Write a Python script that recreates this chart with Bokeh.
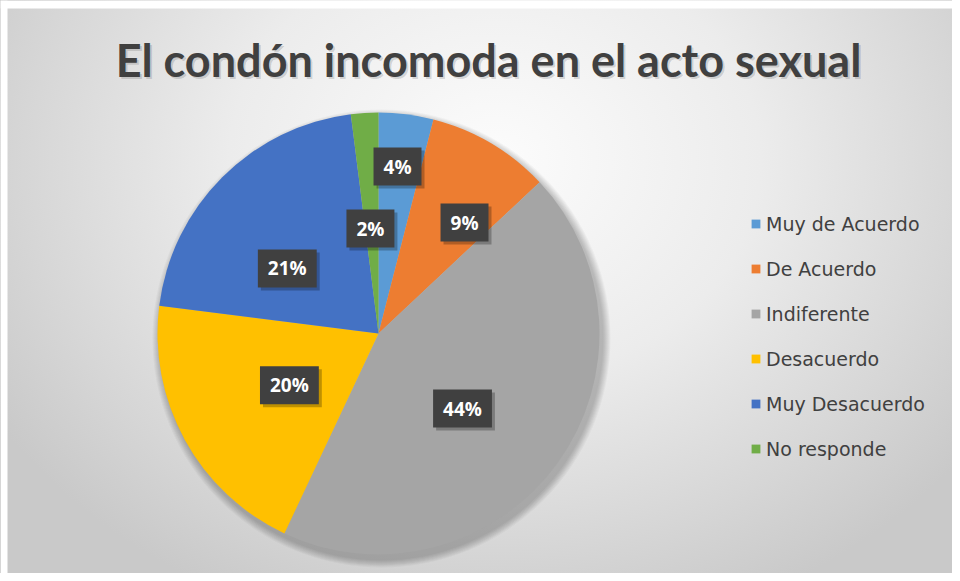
import math
from bokeh.plotting import figure
from bokeh.models import ColumnDataSource, Range1d, Legend, LegendItem
from bokeh.core.properties import value
from bokeh.embed import file_html
from bokeh.resources import INLINE

# ---- data ----
title_text = "El condón incomoda en el acto sexual"
categories = ["Muy de Acuerdo", "De Acuerdo", "Indiferente", "Desacuerdo", "Muy Desacuerdo", "No responde"]
percents = [4, 9, 44, 20, 21, 2]
colors = ["#5B9BD5", "#ED7D31", "#A5A5A5", "#FFC000", "#4472C4", "#70AD47"]

# label placement (layout only): radial fraction and angular shift (deg, clockwise)
label_radius_frac = [0.76, 0.635, 0.51, 0.466, 0.507, 0.476]
label_angle_shift = [-0.7, 7.2, 5.8, -1.3, -9.5, -0.8]

W, H = 952, 573
CX, CY, R = 378, H - 333, 221

total = sum(percents)
starts, ends, lx, ly, labels = [], [], [], [], []
cum = 0.0
for pct, fr, sh in zip(percents, label_radius_frac, label_angle_shift):
    a0 = math.pi / 2 - 2 * math.pi * (cum + pct) / total
    a1 = math.pi / 2 - 2 * math.pi * cum / total
    starts.append(a0)
    ends.append(a1)
    mid = (a0 + a1) / 2 - math.radians(sh)
    lx.append(CX + fr * R * math.cos(mid))
    ly.append(CY + fr * R * math.sin(mid))
    labels.append(f"{pct}%")
    cum += pct

src = ColumnDataSource(dict(cat=categories, start=starts, end=ends, color=colors,
                            lx=lx, ly=ly, label=labels))

p = figure(width=W, height=H, output_backend="svg", toolbar_location=None,
           x_range=Range1d(0, W), y_range=Range1d(0, H), min_border=0,
           styles={"background": "radial-gradient(ellipse 62% 85% at 52% 28%, #fcfcfc 0%, #ececec 45%, #d6d6d6 80%, #c9c9c9 100%)"})
p.axis.visible = False
p.xgrid.visible = False
p.ygrid.visible = False
p.outline_line_color = None
p.background_fill_alpha = 0
p.border_fill_alpha = 0

# white page border strips (left / top) as in the picture
p.quad(left=[0, 0], right=[7, W], bottom=[0, H - 8], top=[H, H],
       fill_color="white", line_color=None)

# soft pie shadow
for k in range(1, 9):
    p.circle(x=[CX + 3], y=[CY - 5], radius=R + k, fill_color="black",
             fill_alpha=0.03, line_color=None)

# pie
pie = p.wedge(x=CX, y=CY, radius=R, start_angle="start", end_angle="end",
              direction="anticlock", fill_color="color", line_color=None, source=src)

# title (shadow + text)
TX, TY = 488, H - 59
p.text(x=[TX + 2], y=[TY - 2], text=[title_text], text_font=value("Lato"),
       text_font_size="45px", text_font_style="bold", text_color="#000000", text_alpha=0.15,
       text_align="center", text_baseline="alphabetic")
p.text(x=[TX], y=[TY], text=[title_text], text_font=value("Lato"),
       text_font_size="45px", text_font_style="bold", text_color="#404040",
       text_align="center", text_baseline="alphabetic")

# data labels: shadow boxes then boxes
p.text(x="lx", y="ly", text="label", source=src, x_offset=3, y_offset=3,
       text_font=value("Open Sans"), text_font_size="19px", text_font_style="bold",
       text_alpha=0, text_align="center", text_baseline="middle",
       background_fill_color="#000000", background_fill_alpha=0.25,
       padding=dict(x=10, y=6))
p.text(x="lx", y="ly", text="label", source=src,
       text_font=value("Open Sans"), text_font_size="19px", text_font_style="bold",
       text_color="white", text_align="center", text_baseline="middle",
       background_fill_color="#404040", background_fill_alpha=1.0,
       padding=dict(x=10, y=6))

legend = Legend(items=[LegendItem(label=c, renderers=[pie], index=i) for i, c in enumerate(categories)],
                location=(750, 113), orientation="vertical",
                glyph_width=11, glyph_height=11, label_height=23, label_standoff=5,
                spacing=22, padding=0, margin=0,
                label_text_font="DejaVu Sans", label_text_font_size="19px",
                label_text_color="#404040",
                background_fill_alpha=0, border_line_color=None)
p.add_layout(legend, "center")

open("out.html", "w").write(file_html(p, INLINE))
